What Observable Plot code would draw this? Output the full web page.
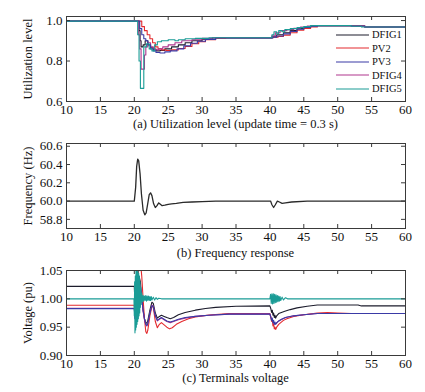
<!DOCTYPE html>
<html><head><meta charset="utf-8">
<script src="https://cdn.jsdelivr.net/npm/d3@7"></script>
<script src="https://cdn.jsdelivr.net/npm/@observablehq/plot@0.6"></script>
<style>
body{margin:0;background:#fff;}
#root{position:relative;width:425px;height:392px;overflow:hidden;font-family:"Liberation Serif","Times New Roman",serif;color:#111;}
.panel{position:absolute;left:0;}
.cap{position:absolute;left:66px;width:339px;text-align:center;font-size:12.5px;line-height:16px;white-space:nowrap;}
.ylab{position:absolute;font-size:12.5px;line-height:14px;white-space:nowrap;transform:translate(-50%,-50%) rotate(-90deg);}
.legend{position:absolute;left:336px;top:28px;font-size:10.5px;}
.legend div{height:13.5px;line-height:13.5px;display:flex;align-items:center;}
.legend svg{margin-right:3px;}
</style></head><body><div id="root"></div>
<script>
// ---------- data ----------
const seriesNames = ["DFIG1","PV2","PV3","DFIG4","DFIG5"];
const seriesColors = ["#1c1c2c","#e42a2e","#3a3aa6","#b0368e","#1a9c96"];
const drawOrder = ["DFIG1","PV2","DFIG4","PV3","DFIG5"];
const xTicks = [10,15,20,25,30,35,40,45,50,55,60];

// (a) utilization level, step data [time, level]
const util_DFIG1 = [[10,0.997],[20.7,0.95],[20.85,0.9],[21.0,0.87],[21.3,0.88],[21.6,0.9],[22.0,0.88],[22.4,0.865],[22.8,0.855],[23.3,0.85],[23.8,0.852],[24.5,0.86],[25.5,0.87],[26.5,0.88],[27.5,0.89],[28.5,0.9],[30,0.908],[31.5,0.914],[40.3,0.92],[41,0.93],[42,0.94],[43,0.95],[44,0.96],[45,0.967],[46,0.972],[47,0.975],[52,0.973],[54,0.968],[60,0.967]];
const util_PV2 = [[10,0.997],[21.1,0.97],[21.5,0.95],[21.9,0.93],[22.3,0.91],[22.7,0.89],[23.1,0.87],[23.5,0.86],[24.0,0.855],[24.7,0.852],[25.5,0.855],[26.5,0.862],[27.5,0.872],[28.5,0.885],[29.5,0.895],[30.5,0.905],[32,0.912],[33.5,0.915],[40.5,0.918],[41.2,0.922],[42,0.928],[43,0.94],[44,0.952],[45,0.961],[46,0.968],[47,0.974],[52,0.973],[54,0.968],[60,0.967]];
const util_PV3 = [[10,0.997],[20.8,0.96],[21.1,0.93],[21.4,0.91],[21.7,0.9],[22.0,0.88],[22.4,0.86],[22.8,0.85],[23.2,0.842],[23.8,0.84],[24.5,0.845],[25.3,0.85],[26.3,0.86],[27.3,0.875],[28.3,0.888],[29.3,0.898],[30.5,0.907],[32,0.914],[40.4,0.918],[41,0.924],[42,0.934],[43,0.946],[44,0.957],[45,0.966],[46,0.972],[47,0.975],[52,0.973],[54,0.968],[60,0.967]];
const util_DFIG4 = [[10,0.997],[20.6,0.93],[20.8,0.86],[21.0,0.76],[21.5,0.83],[21.7,0.87],[22.0,0.89],[22.4,0.87],[22.8,0.86],[23.2,0.855],[23.6,0.86],[24.2,0.87],[25,0.88],[26,0.89],[27,0.9],[28.5,0.905],[30,0.912],[31.5,0.915],[40.3,0.925],[40.8,0.94],[41.5,0.95],[42.5,0.955],[43.5,0.962],[44.5,0.968],[45.5,0.973],[47,0.975],[52,0.972],[54,0.968],[60,0.968]];
const util_DFIG5 = [[10,0.997],[20.5,0.93],[20.7,0.8],[20.9,0.665],[21.4,0.87],[21.8,0.885],[22.2,0.86],[22.6,0.85],[23.0,0.88],[23.4,0.895],[24.0,0.9],[25.0,0.905],[26.0,0.9],[26.5,0.905],[27.5,0.91],[29,0.912],[31,0.915],[40.3,0.93],[40.6,0.945],[41.0,0.935],[41.3,0.95],[41.8,0.945],[42.2,0.955],[43.0,0.96],[44,0.965],[45,0.97],[46,0.975],[52,0.972],[53.5,0.968],[60,0.968]];
const utilTicks = [0.6,0.8,1.0];
const utilTickLabels = ["0.6","0.8","1.0"];

// (b) frequency response [time, Hz]
const freq = [[10,60.0],[20.0,60.0],[20.2,60.15],[20.35,60.38],[20.5,60.46],[20.65,60.44],[20.85,60.3],[21.05,60.08],[21.3,59.9],[21.55,59.85],[21.75,59.87],[22.0,59.98],[22.2,60.07],[22.4,60.09],[22.6,60.06],[22.85,59.97],[23.1,59.93],[23.35,59.95],[23.6,59.98],[23.85,59.965],[24.1,59.95],[24.5,59.955],[25.0,59.965],[25.5,59.97],[26.2,59.975],[27.2,59.985],[28.5,59.99],[30,59.995],[32,60.0],[40.1,60.0],[40.3,59.96],[40.55,59.93],[40.8,59.96],[41.1,60.0],[41.4,59.99],[41.8,59.975],[42.3,59.98],[43.2,59.99],[45.5,60.0],[60,60.0]];
const freqTicks = [59.8,60.0,60.2,60.4,60.6];
const freqTickLabels = ["58.8","60.0","60.2","60.4","60.6"];

// (c) terminals voltage [time, pu]
const volt_DFIG1 = [[10,1.022],[20.0,1.022],[20.1,0.99],[20.3,1.01],[20.5,1.03],[20.7,1.04],[20.9,1.03],[21.1,1.0],[21.3,0.98],[21.5,0.965],[21.7,0.958],[21.85,0.957],[22.0,0.962],[22.3,0.98],[22.6,0.994],[22.8,0.992],[23.1,0.975],[23.4,0.966],[23.7,0.969],[24.0,0.971],[24.4,0.969],[24.8,0.967],[25.3,0.965],[25.8,0.967],[26.5,0.972],[27.5,0.976],[29,0.98],[30.5,0.983],[32,0.985],[35,0.987],[40,0.9875],[40.15,0.982],[40.25,0.976],[40.35,0.98],[40.45,0.971],[40.55,0.975],[40.65,0.967],[40.75,0.971],[40.85,0.966],[41,0.97],[41.3,0.974],[41.7,0.976],[42.2,0.978],[43,0.981],[44,0.984],[45.5,0.987],[47,0.989],[53,0.989],[53.5,0.9875],[60,0.9875]];
const volt_PV2 = [[10,0.9886],[20.0,0.9886],[20.1,0.97],[20.3,1.0],[20.5,1.03],[20.7,1.06],[20.9,1.065],[21.1,1.04],[21.3,1.0],[21.5,0.965],[21.7,0.942],[21.85,0.939],[22.0,0.945],[22.3,0.97],[22.6,0.987],[22.8,0.985],[23.1,0.96],[23.4,0.949],[23.7,0.955],[24.0,0.958],[24.4,0.954],[24.8,0.95],[25.2,0.947],[25.6,0.949],[26.2,0.955],[27,0.96],[28,0.965],[29,0.968],[30,0.97],[31.5,0.972],[34,0.974],[40.0,0.974],[40.15,0.966],[40.25,0.96],[40.35,0.963],[40.45,0.952],[40.55,0.956],[40.65,0.947],[40.75,0.95],[40.85,0.946],[41.0,0.95],[41.3,0.955],[41.6,0.958],[42,0.962],[42.5,0.965],[43.5,0.969],[45,0.972],[47,0.975],[48.5,0.976],[50,0.975],[52,0.974],[60,0.974]];
const volt_PV3 = [[10,0.9827],[20.0,0.9827],[20.1,0.965],[20.3,0.99],[20.5,1.01],[20.7,1.025],[20.9,1.02],[21.1,1.0],[21.3,0.98],[21.5,0.965],[21.7,0.955],[21.85,0.953],[22.0,0.957],[22.3,0.975],[22.6,0.988],[22.8,0.986],[23.1,0.97],[23.4,0.962],[23.7,0.965],[24.0,0.967],[24.4,0.964],[24.8,0.961],[25.3,0.959],[25.8,0.961],[26.5,0.964],[27.5,0.967],[29,0.969],[31,0.971],[34,0.973],[40,0.973],[40.15,0.967],[40.25,0.962],[40.35,0.966],[40.45,0.958],[40.55,0.962],[40.65,0.955],[40.75,0.959],[40.85,0.955],[41.0,0.958],[41.3,0.961],[41.7,0.964],[42.3,0.967],[43.5,0.97],[45,0.972],[47,0.974],[50,0.974],[60,0.974]];
const volt_DFIG4 = [[10,0.9835],[20.0,0.9835],[20.1,0.966],[20.3,0.992],[20.5,1.015],[20.7,1.03],[20.9,1.022],[21.1,1.0],[21.3,0.978],[21.5,0.963],[21.7,0.954],[21.85,0.952],[22.0,0.956],[22.3,0.975],[22.6,0.989],[22.8,0.987],[23.1,0.97],[23.4,0.961],[23.7,0.964],[24.0,0.966],[24.4,0.963],[24.8,0.96],[25.3,0.958],[25.8,0.96],[26.5,0.963],[27.5,0.966],[29,0.969],[31,0.971],[34,0.973],[40,0.9735],[40.3,0.963],[40.6,0.956],[40.9,0.956],[41.3,0.961],[42.3,0.967],[43.5,0.97],[45,0.972],[47,0.974],[50,0.974],[60,0.974]];
const volt_DFIG5 = [[10,1.0],[19.95,1.0],[20.0,0.97],[20.05,1.03],[20.1,0.94],[20.15,1.04],[20.2,0.945],[20.25,1.05],[20.3,0.95],[20.35,1.05],[20.4,0.955],[20.45,1.05],[20.5,0.96],[20.55,1.05],[20.6,0.965],[20.65,1.045],[20.7,0.97],[20.75,1.04],[20.8,0.975],[20.85,1.03],[20.9,0.985],[20.95,1.02],[21.0,0.99],[21.1,1.01],[21.2,0.995],[21.3,1.006],[21.4,0.996],[21.5,1.005],[21.6,0.997],[21.7,1.006],[21.8,0.996],[21.9,1.005],[22.0,0.997],[22.1,1.005],[22.2,0.997],[22.3,1.004],[22.4,0.997],[22.5,1.004],[22.6,0.998],[22.8,1.003],[23.0,0.998],[23.2,1.002],[23.4,0.999],[23.6,1.001],[24.0,1.0],[40.0,1.0],[40.1,1.008],[40.2,0.992],[40.3,1.009],[40.4,0.991],[40.5,1.009],[40.6,0.992],[40.7,1.008],[40.8,0.993],[40.9,1.007],[41.0,0.994],[41.1,1.006],[41.2,0.995],[41.3,1.005],[41.4,0.996],[41.5,1.004],[41.6,0.997],[41.8,1.003],[42.0,0.998],[42.3,1.002],[42.6,1.0],[60,1.0]];
const voltTicks = [0.90,0.95,1.00,1.05];
const voltTickLabels = ["0.90","0.95","1.00","1.05"];

const captions = ["(a) Utilization level (update time = 0.3 s)","(b) Frequency response","(c) Terminals voltage"];
const yLabels = ["Utilization level","Frequency (Hz)","Voltage (pu)"];

// ---------- build ----------
const utilSets = {DFIG1: util_DFIG1, PV2: util_PV2, PV3: util_PV3, DFIG4: util_DFIG4, DFIG5: util_DFIG5};
const voltSets = {DFIG1: volt_DFIG1, PV2: volt_PV2, PV3: volt_PV3, DFIG4: volt_DFIG4, DFIG5: volt_DFIG5};
const tidy = sets => drawOrder.flatMap(s => sets[s].map(([t, v]) => ({series: s, t, v})));
const freqRows = freq.map(([t, v]) => ({series: "f", t, v}));

const root = document.getElementById("root");
const W = 425, H = 130, mt = 16, mb = 29, ml = 66, mr = 20;
const innerH = H - mt - mb, innerW = W - ml - mr;
const axisColor = "#3a3a3a";

function panel(top, rows, curve, yDomain, yTicks, yTickLabels, colored, idx) {
  const lineOpts = {x: "t", y: "v", z: "series", curve, clip: true, strokeWidth: 1.1};
  if (colored) lineOpts.stroke = "series"; else { lineOpts.stroke = "#2a2a2a"; lineOpts.strokeWidth = 1.3; }
  const svg = Plot.plot({
    width: W, height: H, marginTop: mt, marginBottom: mb, marginLeft: ml, marginRight: mr,
    style: {fontFamily: '"Liberation Serif","Times New Roman",serif', fontSize: "13px", color: "#111", background: "transparent"},
    x: {domain: [10, 60]},
    y: {domain: yDomain},
    color: {domain: seriesNames, range: seriesColors},
    marks: [
      Plot.line(rows, lineOpts),
      Plot.frame({stroke: axisColor, strokeWidth: 1}),
      Plot.tickX(xTicks, {x: d => d, insetTop: innerH - 4, stroke: axisColor}),
      Plot.tickX(xTicks, {x: d => d, insetBottom: innerH - 4, stroke: axisColor}),
      Plot.tickY(yTicks, {y: d => d, insetRight: innerW - 4, stroke: axisColor}),
      Plot.tickY(yTicks, {y: d => d, insetLeft: innerW - 4, stroke: axisColor}),
      Plot.axisX(xTicks, {tickSize: 0, tickPadding: 3, label: null, tickFormat: d => String(d)}),
      Plot.axisY(yTicks, {tickSize: 0, tickPadding: 4, label: null, tickFormat: (d, i) => yTickLabels[yTicks.indexOf(d)]})
    ]
  });
  const wrap = document.createElement("div");
  wrap.className = "panel";
  wrap.style.top = top + "px";
  wrap.appendChild(svg);
  root.appendChild(wrap);
  const cap = document.createElement("div");
  cap.className = "cap";
  cap.textContent = captions[idx];
  cap.style.top = (top + [116, 118, 116][idx]) + "px";
  root.appendChild(cap);
  const yl = document.createElement("div");
  yl.className = "ylab";
  yl.textContent = yLabels[idx];
  yl.style.left = "28px";
  yl.style.top = (top + mt + innerH / 2) + "px";
  root.appendChild(yl);
}

panel(0, tidy(utilSets), "step-after", [0.6, 1.02], utilTicks, utilTickLabels, true, 0);
panel(127, freqRows, "linear", [59.7, 60.63], freqTicks, freqTickLabels, false, 1);
panel(254, tidy(voltSets), "linear", [0.9, 1.05], voltTicks, voltTickLabels, true, 2);

// legend (panel a)
const leg = document.createElement("div");
leg.className = "legend";
seriesNames.forEach((s, i) => {
  const row = document.createElement("div");
  row.innerHTML = `<svg width="33" height="4"><line x1="0" x2="33" y1="2" y2="2" stroke="${seriesColors[i]}" stroke-width="1.1"/></svg><span>${s}</span>`;
  leg.appendChild(row);
});
root.appendChild(leg);
</script>
</body></html>
